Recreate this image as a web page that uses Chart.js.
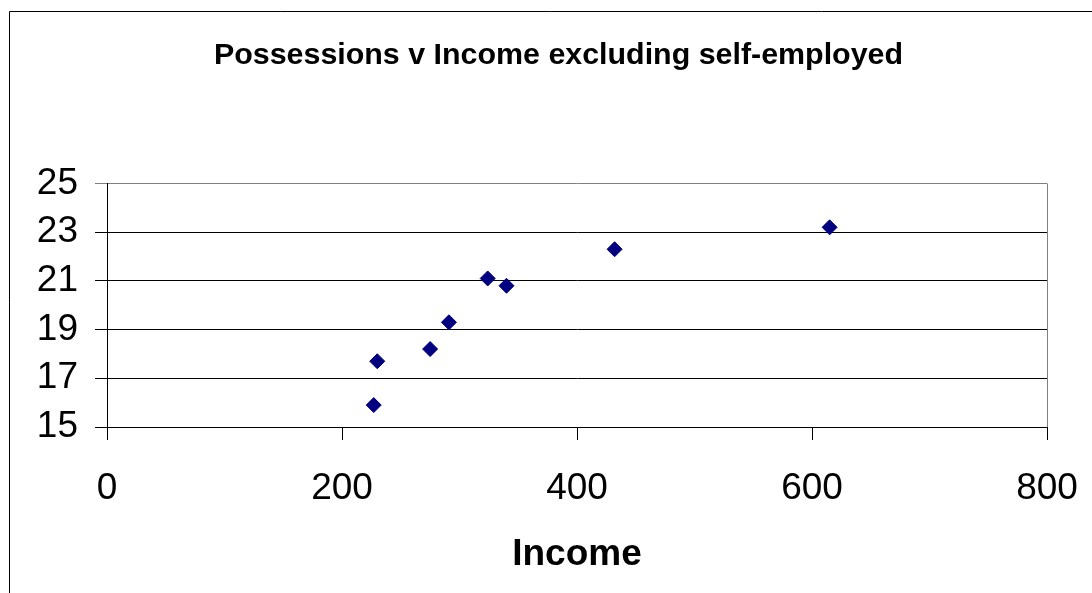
<!DOCTYPE html>
<html>
<head>
<meta charset="utf-8">
<title>Possessions v Income excluding self-employed</title>
<script src="https://cdn.jsdelivr.net/npm/chart.js@4.4.1/dist/chart.umd.min.js"></script>
<style>
  html, body { margin: 0; padding: 0; background: #fff; }
  #wrap { width: 1092px; height: 593px; }
</style>
</head>
<body>
<div id="wrap"><canvas id="myChart" width="1092" height="593"></canvas></div>
<script>
// data
const income = [227, 230, 275, 291, 324, 340, 432, 615];
const possessions = [15.9, 17.7, 18.2, 19.3, 21.1, 20.8, 22.3, 23.2];
const xTicks = [0, 200, 400, 600, 800];
const yTicks = [15, 17, 19, 21, 23, 25];

const FONT = "'Liberation Sans', Arial, sans-serif";

const points = income.map(function (v, i) {
  return { x: v, y: possessions[i] };
});

// outer chart frame + grey right edge of plot area
const framePlugin = {
  id: "frame",
  beforeDraw(chart) {
    const ctx = chart.ctx;
    ctx.save();
    ctx.fillStyle = "#fff";
    ctx.fillRect(0, 0, chart.width, chart.height);
    ctx.restore();
  },
  afterDraw(chart) {
    const ctx = chart.ctx;
    const a = chart.chartArea;
    ctx.save();
    ctx.lineWidth = 1;
    ctx.strokeStyle = "#000";
    ctx.beginPath();
    ctx.moveTo(9.5, chart.height);
    ctx.lineTo(9.5, 11.5);
    ctx.lineTo(chart.width, 11.5);
    ctx.stroke();
    ctx.strokeStyle = "#808080";
    ctx.beginPath();
    ctx.moveTo(Math.round(a.right) + 0.5, a.top);
    ctx.lineTo(Math.round(a.right) + 0.5, a.bottom);
    ctx.stroke();
    ctx.restore();
  },
};

const config = {
  type: "scatter",
  data: {
    datasets: [
      {
        data: points,
        pointStyle: "rectRot",
        pointRadius: 7.5,
        pointHoverRadius: 7.5,
        backgroundColor: "#000080",
        borderColor: "#000080",
        borderWidth: 1,
      },
    ],
  },
  options: {
    responsive: false,
    animation: false,
    devicePixelRatio: 1,
    layout: {
      padding: { left: 25, right: 0, top: 0, bottom: 0 },
    },
    plugins: {
      legend: { display: false },
      tooltip: { enabled: false },
      title: {
        display: true,
        text: "Possessions v Income excluding self-employed",
        color: "#000",
        font: { family: FONT, size: 30.4, weight: "bold" },
        padding: { top: 37, bottom: 110 },
      },
    },
    scales: {
      x: {
        type: "linear",
        min: 0,
        max: 800,
        afterBuildTicks(scale) {
          scale.ticks = xTicks.map(function (v) { return { value: v }; });
        },
        afterFit(scale) {
          scale.height = 166;
        },
        grid: {
          drawOnChartArea: false,
          drawTicks: true,
          tickLength: 13,
          color: "#000",
          lineWidth: 1,
        },
        border: { display: true, color: "#000", width: 1 },
        ticks: {
          color: "#000",
          padding: 0,
          // tall line box pushes the labels down without widening the side padding
          font: { family: FONT, size: 37, lineHeight: "98px" },
        },
        title: {
          display: true,
          text: "Income",
          color: "#000",
          font: { family: FONT, size: 37, weight: "bold" },
          padding: { top: 0, bottom: 16 },
        },
      },
      y: {
        type: "linear",
        min: 15,
        max: 25,
        afterBuildTicks(scale) {
          scale.ticks = yTicks.map(function (v) { return { value: v }; });
        },
        afterFit(scale) {
          scale.width = 82;
        },
        grid: {
          drawTicks: true,
          tickLength: 12,
          lineWidth: 1,
          color: function (c) {
            return c.tick && c.tick.value === 25 ? "#808080" : "#000";
          },
        },
        border: { display: true, color: "#000", width: 1 },
        ticks: {
          color: "#000",
          padding: 17,
          font: { family: FONT, size: 37 },
        },
      },
      // empty right-hand margin
      yRight: {
        type: "linear",
        position: "right",
        min: 15,
        max: 25,
        grid: { display: false },
        border: { display: false },
        ticks: { display: false },
        afterFit(scale) {
          scale.width = 45;
        },
      },
    },
  },
  plugins: [framePlugin],
};

var myChart = new Chart(document.getElementById("myChart"), config);
</script>
</body>
</html>
